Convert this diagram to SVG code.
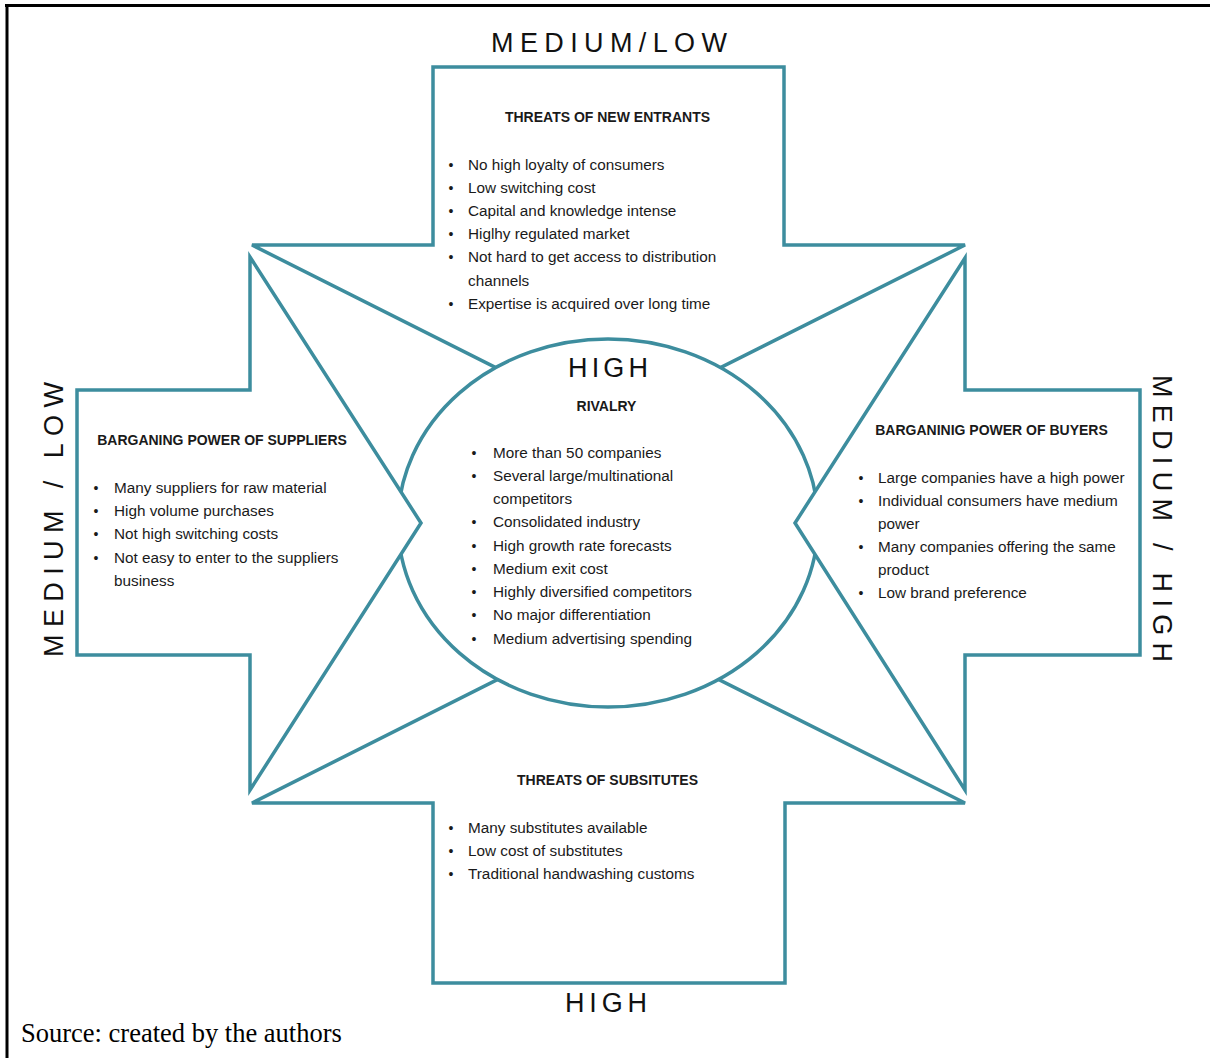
<svg xmlns="http://www.w3.org/2000/svg" width="1210" height="1058" viewBox="0 0 1210 1058">
  <style>
    .shape { fill: #ffffff; stroke: #3d8d9e; stroke-width: 3.5; stroke-linejoin: miter; }
    .frame { stroke: #000000; stroke-width: 3; fill: none; }
    .head { font-family: "Liberation Sans", Arial, sans-serif; font-weight: bold; font-size: 14px; fill: #1a1a1a; text-anchor: middle; }
    .item { font-family: "Liberation Sans", Arial, sans-serif; font-size: 15.3px; fill: #1a1a1a; }
    .dot { font-family: "Liberation Sans", Arial, sans-serif; font-size: 14px; fill: #1a1a1a; text-anchor: middle; }
    .level { font-family: "Liberation Sans", Arial, sans-serif; font-size: 27px; fill: #111111; }
    .source { font-family: "Liberation Serif", "Times New Roman", serif; font-size: 26.5px; fill: #000000; }
  </style>

  <rect width="1210" height="1058" fill="#ffffff"/>

  <!-- page frame: top and left rules only -->
  <g id="frame">
    <line class="frame" x1="5" y1="5.5" x2="1210" y2="5.5"/>
    <line class="frame" x1="7" y1="4" x2="7" y2="1058"/>
  </g>

  <!-- force 1: new entrants (arrow pointing down into the centre) -->
  <g id="new-entrants">
    <polygon class="shape" points="252,245 433,245 433,67 784,67 784,245 965,245 608,424"/>
    <text class="level" x="491" y="52" textLength="236" lengthAdjust="spacing">MEDIUM/LOW</text>
    <text class="head" x="607.5" y="122">THREATS OF NEW ENTRANTS</text>
    <g>
      <text class="dot" x="451" y="170">•</text>
      <text class="dot" x="451" y="193">•</text>
      <text class="dot" x="451" y="216">•</text>
      <text class="dot" x="451" y="239">•</text>
      <text class="dot" x="451" y="262">•</text>
      <text class="dot" x="451" y="309">•</text>
    </g>
    <text class="item" x="468" y="170">No high loyalty of consumers</text>
    <text class="item" x="468" y="193">Low switching cost</text>
    <text class="item" x="468" y="216">Capital and knowledge intense</text>
    <text class="item" x="468" y="239">Higlhy regulated market</text>
    <text class="item" x="468" y="262">Not hard to get access to distribution</text>
    <text class="item" x="468" y="286">channels</text>
    <text class="item" x="468" y="309">Expertise is acquired over long time</text>
  </g>

  <!-- force 2: substitutes (arrow pointing up into the centre) -->
  <g id="substitutes">
    <polygon class="shape" points="252,803 433,803 433,983 785,983 785,803 965,803 608,624"/>
    <text class="level" x="565" y="1012" textLength="82" lengthAdjust="spacing">HIGH</text>
    <text class="head" x="607.5" y="785">THREATS OF SUBSITUTES</text>
    <g>
      <text class="dot" x="451" y="833">•</text>
      <text class="dot" x="451" y="856">•</text>
      <text class="dot" x="451" y="879">•</text>
    </g>
    <text class="item" x="468" y="833">Many substitutes available</text>
    <text class="item" x="468" y="856">Low cost of substitutes</text>
    <text class="item" x="468" y="879">Traditional handwashing customs</text>
  </g>

  <!-- centre: rivalry among competitors -->
  <g id="rivalry">
    <ellipse class="shape" cx="608" cy="523" rx="210" ry="184"/>
    <text class="level" x="568" y="377" textLength="80" lengthAdjust="spacing">HIGH</text>
    <text class="head" x="606.5" y="411">RIVALRY</text>
    <g>
      <text class="dot" x="474" y="458">•</text>
      <text class="dot" x="474" y="481">•</text>
      <text class="dot" x="474" y="527">•</text>
      <text class="dot" x="474" y="551">•</text>
      <text class="dot" x="474" y="574">•</text>
      <text class="dot" x="474" y="597">•</text>
      <text class="dot" x="474" y="620">•</text>
      <text class="dot" x="474" y="644">•</text>
    </g>
    <text class="item" x="493" y="458">More than 50 companies</text>
    <text class="item" x="493" y="481">Several large/multinational</text>
    <text class="item" x="493" y="504">competitors</text>
    <text class="item" x="493" y="527">Consolidated industry</text>
    <text class="item" x="493" y="551">High growth rate forecasts</text>
    <text class="item" x="493" y="574">Medium exit cost</text>
    <text class="item" x="493" y="597">Highly diversified competitors</text>
    <text class="item" x="493" y="620">No major differentiation</text>
    <text class="item" x="493" y="644">Medium advertising spending</text>
  </g>

  <!-- force 3: suppliers (arrow pointing right into the centre) -->
  <g id="suppliers">
    <polygon class="shape" points="250,257 250,390 77,390 77,655 250,655 250,790 421,523"/>
    <text class="level" transform="translate(63,657) rotate(-90)" x="0" y="0" textLength="275" lengthAdjust="spacing">MEDIUM / LOW</text>
    <text class="head" x="222" y="445">BARGANING POWER OF SUPPLIERS</text>
    <g>
      <text class="dot" x="96" y="493">•</text>
      <text class="dot" x="96" y="516">•</text>
      <text class="dot" x="96" y="539">•</text>
      <text class="dot" x="96" y="563">•</text>
    </g>
    <text class="item" x="114" y="493">Many suppliers for raw material</text>
    <text class="item" x="114" y="516">High volume purchases</text>
    <text class="item" x="114" y="539">Not high switching costs</text>
    <text class="item" x="114" y="563">Not easy to enter to the suppliers</text>
    <text class="item" x="114" y="586">business</text>
  </g>

  <!-- force 4: buyers (arrow pointing left into the centre) -->
  <g id="buyers">
    <polygon class="shape" points="965,258 965,390 1140,390 1140,655 965,655 965,790 795,523"/>
    <text class="level" transform="translate(1153,375) rotate(90)" x="0" y="0" textLength="287" lengthAdjust="spacing">MEDIUM / HIGH</text>
    <text class="head" x="991.5" y="435">BARGANINIG POWER OF BUYERS</text>
    <g>
      <text class="dot" x="861" y="483">•</text>
      <text class="dot" x="861" y="506">•</text>
      <text class="dot" x="861" y="552">•</text>
      <text class="dot" x="861" y="598">•</text>
    </g>
    <text class="item" x="878" y="483">Large companies have a high power</text>
    <text class="item" x="878" y="506">Individual consumers have medium</text>
    <text class="item" x="878" y="529">power</text>
    <text class="item" x="878" y="552">Many companies offering the same</text>
    <text class="item" x="878" y="575">product</text>
    <text class="item" x="878" y="598">Low brand preference</text>
  </g>

  <text class="source" x="21" y="1042">Source: created by the authors</text>
</svg>
